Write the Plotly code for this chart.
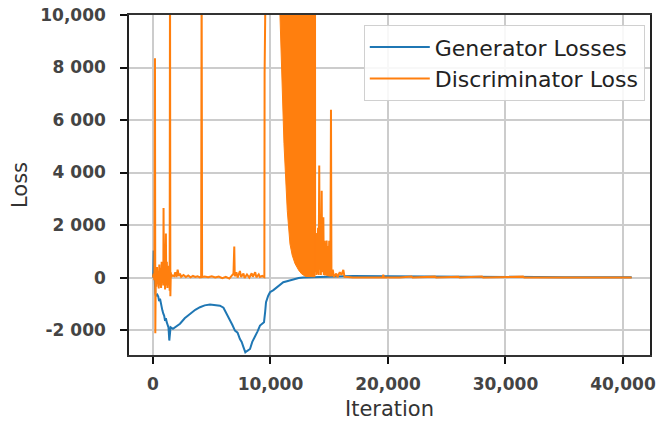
import plotly.graph_objects as go

# Generator losses (iteration, loss)
gen_x = [0, 30, 60, 100, 150, 200, 250, 300, 370, 450, 520, 600, 700, 800, 880, 950, 1030, 1100, 1170,
         1250, 1320, 1390, 1440, 1500, 1700, 2000, 2300, 2700, 3150, 3600, 4000, 4400, 4850, 5300, 5700,
         6000, 6130, 6350, 6550, 6750, 6980, 7200, 7400, 7550, 7700, 7860, 8000, 8260, 8450, 8680, 8900,
         9110, 9300, 9450, 9550, 9620, 9800, 9960, 10250, 10530, 10800, 11090, 11400, 11660, 12000, 12400,
         12800, 13500, 15000, 17000, 20000, 25000, 30000, 35000, 40740]
gen_y = [0, 200, 1030, 300, -300, -600, -700, -690, -650, -720, -900, -810, -1100, -1250, -1380, -1450,
         -1650, -1550, -1700, -1800, -1900, -2400, -2100, -1890, -1950, -1850, -1760, -1550, -1380, -1230,
         -1130, -1060, -1030, -1040, -1070, -1150, -1260, -1420, -1640, -1800, -2020, -2100, -2340, -2450,
         -2650, -2850, -2800, -2720, -2450, -2270, -2050, -1830, -1750, -1700, -1300, -940, -700, -560,
         -480, -390, -290, -180, -140, -110, -60, -20, 0, 10, 40, 60, 50, 30, 20, 15, 10]

# Discriminator loss (iteration, loss); values above 10,000 are off the chart
disc_x = [0, 60, 120, 170, 200, 240, 290, 340, 390, 440, 490, 540, 590, 640, 690, 740, 790, 840, 880,
          900, 930, 980, 1030, 1080, 1100, 1130, 1180, 1230, 1280, 1330, 1380, 1420, 1450, 1480, 1520,
          1560, 1650, 1800, 1900, 2000, 2100, 2200, 2300, 2400, 2600, 2800, 3000, 3200, 3400, 3600, 3800,
          4000, 4100, 4140, 4180, 4400, 4700, 5000, 5300, 5600, 5900, 6200, 6500, 6700, 6850, 6920, 6960,
          7100, 7200, 7400, 7500, 7700, 7800, 8000, 8200, 8400, 8500, 8700, 8800, 9000, 9100, 9300, 9480,
          9500, 9530, 9560, 9600, 10800, 13790, 13800, 13830, 13870, 13900, 13950, 14000, 14050, 14100,
          14150, 14190, 14240, 14290, 14360, 14400, 14450, 14500, 14540, 14600, 14650, 14700, 14740,
          14780, 14830, 14880, 14930, 15000, 15040, 15100, 15150, 15190, 15300, 15400, 15600, 15700,
          15900, 16050, 16200, 16300, 16600, 17000, 18000, 19000, 19550, 19600, 19650, 21000, 22000,
          22100, 24000, 24100, 26000, 26100, 28000, 28100, 31500, 31600, 40740]
disc_y = [0, 150, -100, 8350, -2120, 300, -350, 400, -250, 250, -420, 500, -300, 350, -400, 600, -200,
          400, -300, 2650, -200, 700, -450, 500, 1680, -300, 600, -400, 450, -250, 300, -500, 12000, -710,
          200, 30, 80, 50, 200, 20, 300, 60, 150, 30, 100, 20, 80, 10, 60, 20, 50, 10, 30, 12000, 20, 40,
          10, 50, 0, 40, -20, 30, -40, 80, 150, 1180, 50, 200, 0, 250, 20, 150, -20, 120, 0, 160, 30, 200,
          10, 120, 20, 60, 20, 7770, 9500, 7900, 12000, 12000, 12000, 1900, 200, 1700, 100, 1500, 150,
          1900, 100, 4270, 300, 1600, 100, 3310, 200, 1500, 2300, 100, 1400, 80, 1300, 100, 1410, 60,
          1200, 50, 1400, 40, 600, 6390, 50, 300, 20, 150, 10, 200, 100, 290, 30, 20, 5, 0, 5, 10, 110, 5,
          0, 40, 0, 35, 0, 30, 0, 40, 0, 35, 0, 0]

# Dense oscillation band of the discriminator loss (outline in iteration/loss)
band_x = [10780, 10950, 11150, 11430, 11660, 11850, 12090, 12400, 12650, 13000, 13500, 13790, 13790, 10780]
band_y = [10400, 7630, 5100, 2550, 1280, 850, 530, 280, 140, 40, 30, 30, 12000, 12000]

x_ticks = [0, 10000, 20000, 30000, 40000]
x_labels = ["0", "10,000", "20,000", "30,000", "40,000"]
y_ticks = [-2000, 0, 2000, 4000, 6000, 8000, 10000]
y_labels = ["-2 000", "0", "2 000", "4 000", "6 000", "8 000", "10,000"]

BLUE = "#1f77b4"
ORANGE = "#ff7f0e"

fig = go.Figure()
fig.add_trace(go.Scatter(x=gen_x, y=gen_y, mode="lines", name="Generator Losses",
                         line=dict(color=BLUE, width=2), legendgroup="g"))
fig.add_trace(go.Scatter(x=disc_x, y=disc_y, mode="lines", name="Discriminator Loss",
                         line=dict(color=ORANGE, width=2), legendgroup="d"))
fig.add_trace(go.Scatter(x=band_x, y=band_y, mode="lines", fill="toself", fillcolor=ORANGE,
                         line=dict(color=ORANGE, width=1), showlegend=False, hoverinfo="skip"))

tickfont = dict(family="DejaVu Sans", size=17, color="#444444", weight="bold")
titlefont = dict(family="DejaVu Sans", size=21, color="#333333")

fig.update_layout(
    width=660, height=421,
    margin=dict(l=129, r=10, t=15, b=66, autoexpand=False),
    paper_bgcolor="white", plot_bgcolor="white",
    showlegend=True,
    legend=dict(x=0.99, y=0.97, xanchor="right", yanchor="top",
                font=dict(family="DejaVu Sans", size=22, color="#222222"),
                bgcolor="rgba(255,255,255,0.85)", bordercolor="#d0d0d0", borderwidth=1,
                tracegroupgap=0, itemwidth=60),
    xaxis=dict(range=[-2040, 42300], tickvals=x_ticks, ticktext=x_labels, tickfont=tickfont,
               automargin=False, ticklabelstandoff=6, ticklabeloverflow="allow",
               showgrid=True, gridcolor="#cccccc", gridwidth=1.5, zeroline=False,
               showline=True, linecolor="#333333", linewidth=1.5, mirror=True,
               ticks="outside", ticklen=7, tickwidth=2, tickcolor="#111111",
               title=dict(text="Iteration", font=titlefont, standoff=9)),
    yaxis=dict(range=[-2950, 10000.5], tickvals=y_ticks, ticktext=y_labels, tickfont=tickfont,
               automargin=False, ticklabelstandoff=11, ticklabeloverflow="allow",
               showgrid=True, gridcolor="#cccccc", gridwidth=1.5, zeroline=False,
               showline=True, linecolor="#222222", linewidth=1.5, mirror=True,
               ticks="outside", ticklen=7, tickwidth=2, tickcolor="#111111",
               title=dict(text="Loss", font=titlefont, standoff=7)),
)

fig.write_html("out.html", config={"displayModeBar": False},
               post_script="document.body.style.margin='0';document.body.style.padding='0';")
